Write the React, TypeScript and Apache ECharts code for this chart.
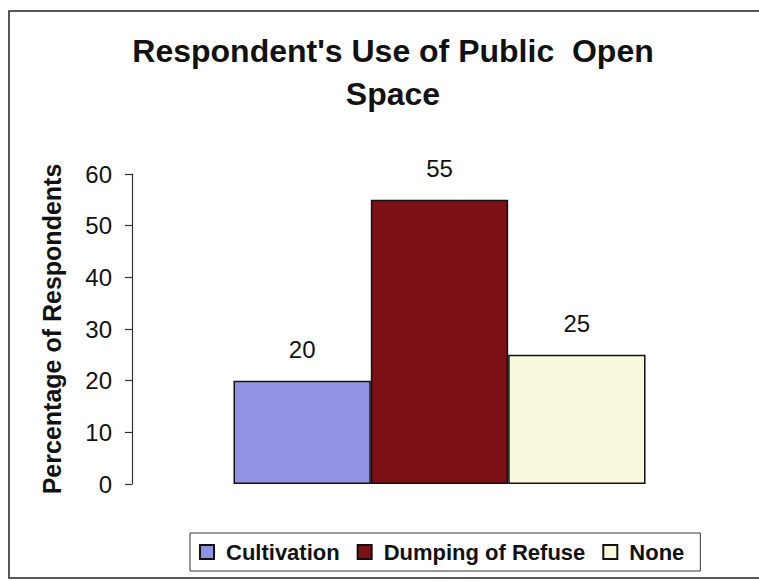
import React, { useEffect, useRef } from "react";
import * as echarts from "echarts";

const titleText = "Respondent's Use of Public  Open\nSpace";
const yAxisName = "Percentage of Respondents";
const categories = ["Use"];
const seriesNames = ["Cultivation", "Dumping of Refuse", "None"];
const seriesValues = [20, 55, 25];
const seriesColors = ["#9292e2", "#7d1015", "#f8f8dc"];
const yMin = 0;
const yMax = 60;
const yInterval = 10;

const FONT = "'Liberation Sans', Arial, Helvetica, sans-serif";

export default function App() {
  const ref = useRef<HTMLDivElement>(null);

  useEffect(() => {
    if (!ref.current) return;
    const chart = echarts.init(ref.current, undefined, { renderer: "svg" });
    const option: any = {
      animation: false,
      backgroundColor: "#ffffff",
      textStyle: { fontFamily: FONT },
      title: {
        text: titleText,
        left: 393,
        top: 29,
        textAlign: "center",
        padding: 0,
        textStyle: {
          fontFamily: FONT,
          fontSize: 32,
          fontWeight: "bold",
          color: "#111",
          lineHeight: 43,
        },
      },
      graphic: [
        {
          type: "rect",
          shape: { x: 9, y: 11, width: 770, height: 567 },
          style: { fill: "none", stroke: "#222", lineWidth: 1.5 },
          silent: true,
          z: 100,
        },
      ],
      legend: {
        data: seriesNames,
        left: 190,
        top: 533,
        orient: "horizontal",
        icon: "rect",
        itemWidth: 14,
        itemHeight: 14,
        itemGap: 17,
        padding: [8, 16, 8, 9],
        borderColor: "#333",
        borderWidth: 1,
        textStyle: {
          fontFamily: FONT,
          fontSize: 22,
          fontWeight: "bold",
          color: "#111",
          padding: [0, 0, 0, 7],
        },
      },
      grid: { left: 132, right: 12, top: 174, bottom: 97 },
      xAxis: {
        type: "category",
        data: categories,
        show: false,
      },
      yAxis: {
        type: "value",
        min: yMin,
        max: yMax,
        interval: yInterval,
        name: yAxisName,
        nameLocation: "middle",
        nameGap: 68,
        nameRotate: 90,
        nameTextStyle: {
          fontFamily: FONT,
          fontSize: 25,
          fontWeight: "bold",
          color: "#111",
        },
        axisLine: { show: true, lineStyle: { color: "#333", width: 1.2 } },
        axisTick: { show: true, length: 7, lineStyle: { color: "#333", width: 1.2 } },
        splitLine: { show: false },
        axisLabel: {
          fontFamily: FONT,
          fontSize: 24,
          margin: 20,
          color: "#111",
        },
      },
      series: seriesNames.map((name, i) => ({
        name,
        type: "bar",
        data: [seriesValues[i]],
        barGap: "0%",
        barCategoryGap: "33%",
        itemStyle: {
          color: seriesColors[i],
          borderColor: "#111",
          borderWidth: 1.5,
        },
        label: {
          show: true,
          position: "top",
          distance: 19,
          fontFamily: FONT,
          fontSize: 24,
          color: "#111",
        },
      })),
    };
    chart.setOption(option);
    return () => chart.dispose();
  }, []);

  return (
    <div
      ref={ref}
      style={{ position: "absolute", left: 0, top: 0, width: 759, height: 581 }}
    />
  );
}
